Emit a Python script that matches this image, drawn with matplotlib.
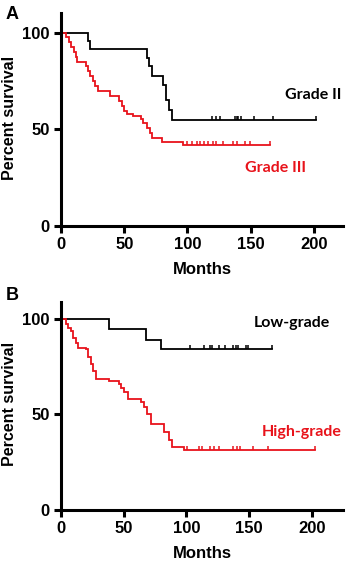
import numpy as np
import matplotlib
matplotlib.use("Agg")
import matplotlib.pyplot as plt

# Panel A: Grade II (black) vs Grade III (red)
a_g2_t = [0, 21, 23, 67.7, 69.6, 71.7, 80.4, 82.8, 85.4, 87.5]
a_g2_s = [100, 95.5, 91.5, 87, 82.5, 77.5, 73, 65, 60, 55]
a_g2_end = 202
a_g2_cens = [119.6, 122.5, 125.7, 137.5, 138.9, 140.2, 142.1, 152.6, 167.8]

a_g3_t = [0, 4, 6, 8, 10, 11.5, 13, 20, 21.5, 23, 25.5, 27, 29, 38.5, 46,
          48, 50, 52, 57, 63.5, 65, 67.7, 70.4, 72, 79.6, 96.7]
a_g3_s = [100, 97.5, 95, 92.5, 90, 87.5, 85, 82.5, 80, 77.5, 75, 72.5, 70, 67,
          64.5, 62, 59.5, 58, 57, 55.5, 53, 50.5, 48, 45.5, 43.5, 42]
a_g3_end = 165
a_g3_cens = [99.4, 103.3, 107.3, 109.9, 113, 116.4, 120.4, 122.5, 128.3,
             136.2, 139.4, 145.5, 149.4]

# Panel B: Low-grade (black) vs High-grade (red)
b_lo_t = [0, 38.7, 67.7, 80]
b_lo_s = [100, 94.6, 89.2, 84]
b_lo_end = 168
b_lo_cens = [103.3, 113.8, 119.1, 120.4, 125.7, 131, 137.5, 139.4, 141.5,
             148, 149.4]

b_hi_t = [0, 4, 5.8, 7.9, 9.7, 11.6, 13.2, 20.3, 21.6, 23.7, 25.5, 28.2, 38.7,
          46.6, 48, 50.6, 53.2, 63.8, 66.4, 68.5, 71.7, 82.2, 86.2, 88.8, 98]
b_hi_s = [100, 97.5, 95, 93.5, 90, 87.5, 85, 84, 80, 76.5, 73, 68.5, 67.5,
          66, 64, 61.5, 58, 56.3, 53.7, 50, 45, 41, 36.6, 33.1, 31.4]
b_hi_end = 203
b_hi_cens = [100.6, 109.9, 112.5, 119.1, 121.7, 125.7, 137.5, 140.2, 142.9,
             153.4, 165.2]

RED = "#e8131b"
AX_FONT = "Liberation Sans"
LBL_FONT = "Lato"
UPTICK = [(0, 0), (0, 1)]  # censor mark pointing up from the curve


def km(ax, t, s, t_end, cens, color):
    tt = list(t) + [t_end]
    ss = list(s) + [s[-1]]
    ax.step(tt, ss, where="post", color=color, lw=1.3, solid_joinstyle="miter")
    idx = np.searchsorted(t, cens, side="right") - 1
    cs = np.array(s)[idx]
    ax.plot(cens, cs, linestyle="none", marker=UPTICK, ms=6, mew=1.1,
            color=color)
    ax.plot([t_end], [s[-1]], linestyle="none", marker=UPTICK, ms=6, mew=1.1,
            color=color)


def style(ax, xmax, ymax):
    ax.set_xlim(0, xmax)
    ax.set_ylim(0, ymax)
    for sp in ["top", "right"]:
        ax.spines[sp].set_visible(False)
    for sp in ["left", "bottom"]:
        ax.spines[sp].set_linewidth(2.2)
    ax.set_xticks([0, 50, 100, 150, 200])
    ax.set_yticks([0, 50, 100])
    ax.tick_params(width=2.2, length=5, direction="out", labelsize=12, pad=3)
    for lab in ax.get_xticklabels() + ax.get_yticklabels():
        lab.set_fontfamily(AX_FONT)
        lab.set_fontweight("bold")
    ax.set_xlabel("Months", fontfamily=AX_FONT, fontweight="bold", fontsize=12,
                  labelpad=7)
    ax.set_ylabel("Percent survival", fontfamily=AX_FONT, fontweight="bold",
                  fontsize=11.5)
    ax.yaxis.set_label_coords(-0.157, 0.51)
    ax.patch.set_alpha(0)


fig = plt.figure(figsize=(3.52, 5.63), dpi=100)

ax1 = fig.add_axes([0.1733, 0.5986, 0.801, 0.378])
km(ax1, a_g2_t, a_g2_s, a_g2_end, a_g2_cens, "black")
km(ax1, a_g3_t, a_g3_s, a_g3_end, a_g3_cens, RED)
style(ax1, 223, 110)
ax1.text(222, 67.5, "Grade II", fontfamily=LBL_FONT, fontweight="bold",
         fontsize=11.5, color="black", ha="right", va="center")
ax1.text(194, 30, "Grade III", fontfamily=LBL_FONT, fontweight="bold",
         fontsize=11.5, color=RED, ha="right", va="center")

ax2 = fig.add_axes([0.1733, 0.0941, 0.801, 0.370])
km(ax2, b_lo_t, b_lo_s, b_lo_end, b_lo_cens, "black")
km(ax2, b_hi_t, b_hi_s, b_hi_end, b_hi_cens, RED)
style(ax2, 225, 109)
ax2.text(215, 98, "Low-grade", fontfamily=LBL_FONT, fontweight="bold",
         fontsize=11.5, color="black", ha="right", va="center")
ax2.text(224, 41, "High-grade", fontfamily=LBL_FONT, fontweight="bold",
         fontsize=11.5, color=RED, ha="right", va="center")

fig.text(0.017, 0.974, "A", fontfamily=AX_FONT, fontweight="bold", fontsize=13,
         va="center", ha="left")
fig.text(0.017, 0.476, "B", fontfamily=AX_FONT, fontweight="bold", fontsize=13,
         va="center", ha="left")

fig.savefig("out.png", dpi=100)
